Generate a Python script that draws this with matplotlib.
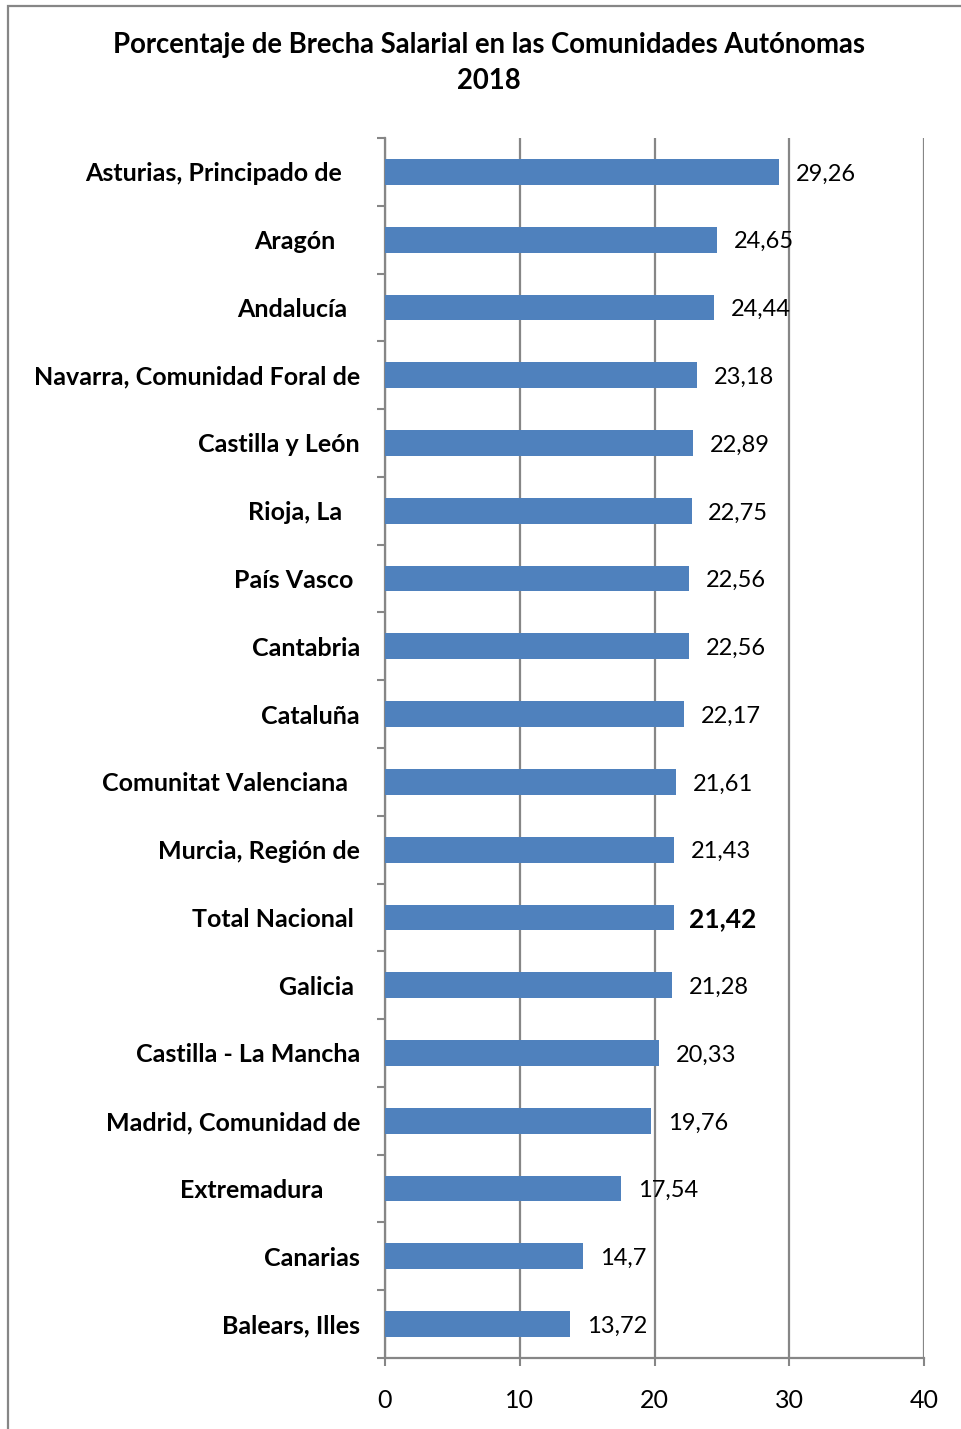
import matplotlib.pyplot as plt
from matplotlib.patches import Rectangle
from matplotlib.ticker import MultipleLocator
import numpy as np

plt.rcParams['font.family'] = ['Lato', 'DejaVu Sans']

# Data (top to bottom as in the chart)
regions = ["Asturias, Principado de   ", "Aragón    ", "Andalucía  ",
           "Navarra, Comunidad Foral de", "Castilla y León", "Rioja, La   ",
           "País Vasco ", "Cantabria", "Cataluña", "Comunitat Valenciana  ",
           "Murcia, Región de", "Total Nacional ", "Galicia ",
           "Castilla - La Mancha", "Madrid, Comunidad de", "Extremadura      ",
           "Canarias", "Balears, Illes"]
values = [29.26, 24.65, 24.44, 23.18, 22.89, 22.75, 22.56, 22.56, 22.17,
          21.61, 21.43, 21.42, 21.28, 20.33, 19.76, 17.54, 14.7, 13.72]
highlight = "Total Nacional"
x_ticks = [0, 10, 20, 30, 40]

grey = "#868686"
blue = "#4F81BD"

fig = plt.figure(figsize=(9.61, 14.29), dpi=100)
ax = fig.add_axes([385 / 961, 1 - 1358 / 1429, 539 / 961, 1220 / 1429])

# outer chart frame (cut off on the right and bottom)
fig.patches.append(Rectangle((8 / 961, -0.1), 1.2, 1.1 - 6 / 1429,
                             transform=fig.transFigure, fill=False,
                             edgecolor=grey, linewidth=1.6))

pos = np.arange(len(regions))
ax.barh(pos, values, height=0.38, color=blue, zorder=3)

for i, v in enumerate(values):
    label = str(v).replace('.', ',')
    if regions[i].strip() == highlight:
        ax.annotate(label, (v, i), xytext=(11, -1), textcoords='offset points',
                    va='center', ha='left', fontsize=19, fontweight='bold')
    else:
        ax.annotate(label, (v, i), xytext=(12, -1.5), textcoords='offset points',
                    va='center', ha='left', fontsize=17)

ax.set_xlim(0, 40)
ax.set_ylim(len(regions) - 0.5, -0.5)
ax.set_xticks(x_ticks)
ax.set_xticklabels([str(t) for t in x_ticks], fontsize=18)
ax.tick_params(axis='x', length=6, width=1.5, color=grey, pad=16)

ax.set_yticks(pos)
ax.set_yticklabels(regions, fontsize=18, fontweight='bold')
ax.yaxis.set_minor_locator(MultipleLocator(1))
ax.set_yticks(np.arange(-0.5, len(regions), 1), minor=True)
ax.tick_params(axis='y', which='major', length=0, pad=18)
ax.tick_params(axis='y', which='minor', length=6, width=1.5, color=grey)

ax.grid(axis='x', color=grey, linewidth=1.6, zorder=0)
ax.set_axisbelow(True)
for s in ['top', 'right']:
    ax.spines[s].set_visible(False)
for s in ['left', 'bottom']:
    ax.spines[s].set_color(grey)
    ax.spines[s].set_linewidth(1.6)

fig.text(489 / 961, 1 - 63 / 1429,
         "Porcentaje de Brecha Salarial en las Comunidades Autónomas\n2018",
         ha='center', va='center', fontsize=19.8, fontweight='bold',
         linespacing=1.5)

fig.savefig("out.png", dpi=100)
